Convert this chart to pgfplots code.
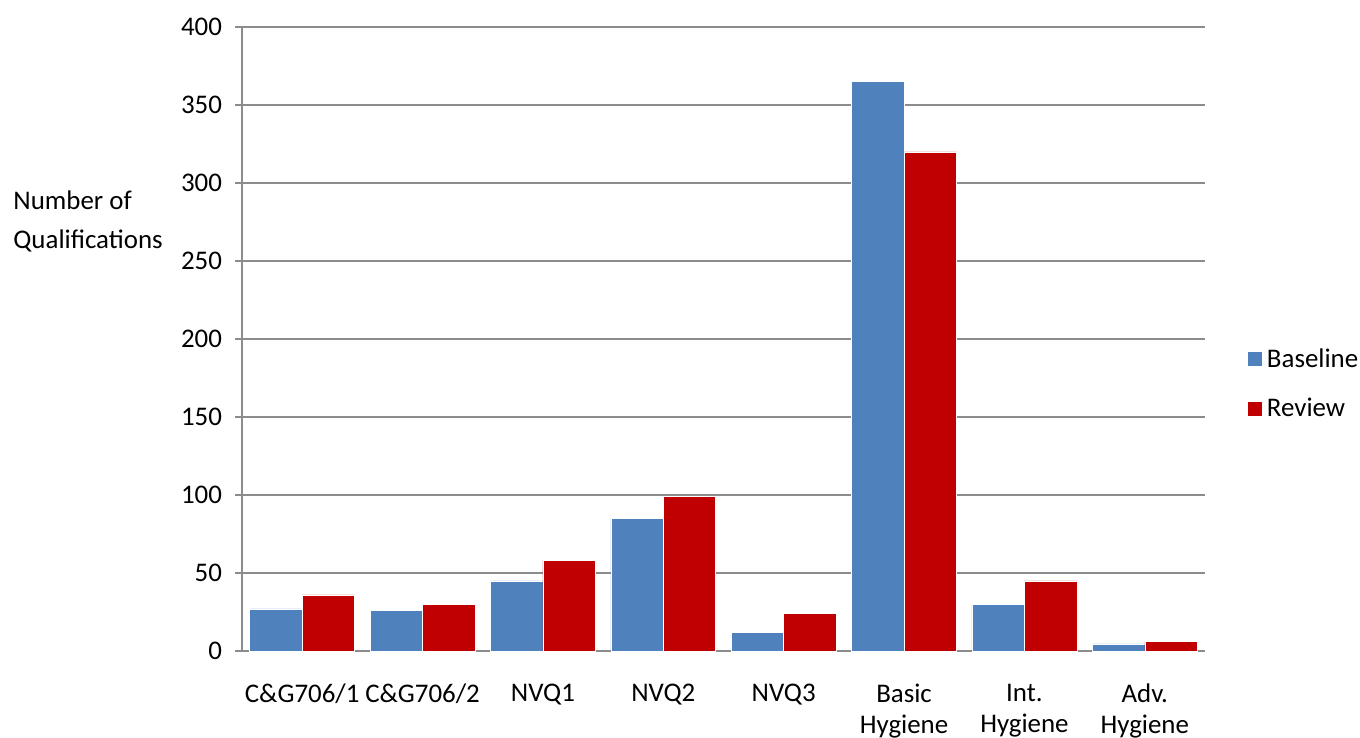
\documentclass[border=0pt]{standalone}
\usepackage{pgfplots}
\pgfplotsset{compat=1.18}
\usepackage{fontspec}
\setmainfont{Carlito}
\definecolor{cblue}{HTML}{4F81BD}
\definecolor{cred}{HTML}{C00000}
\definecolor{cgrid}{HTML}{8C8C8C}
\begin{document}
\begin{tikzpicture}
\begin{axis}[
  scale only axis,
  width=481.5bp, height=312bp,
  xmin=-0.5, xmax=7.5, ymin=0, ymax=400,
  ytick={0,50,...,400},
  xtick={0,...,7},
  xticklabels={C\&G706/1,C\&G706/2,NVQ1,NVQ2,NVQ3,Basic\\Hygiene,Int.\\Hygiene,Adv.\\Hygiene},
  xticklabel style={align=center, font=\fontsize{13.5}{15.5}\selectfont, anchor=north},
  yticklabel style={font=\fontsize{13.5}{15}\selectfont},
  /pgf/number format/assume math mode=true,
  xtick style={draw=none},
  extra x ticks={-0.5,0.5,...,7.5},
  extra x tick labels={},
  extra x tick style={major tick length=7bp, tick align=outside, tick style={draw=cgrid, line width=0.7bp}, grid=none},
  tick align=outside,
  major tick length=3.5bp,
  ytick style={draw=cgrid, line width=0.7bp},
  axis x line*=bottom, axis y line*=left,
  axis line style={draw=cgrid, line width=0.7bp, -},
  ymajorgrids,
  grid style={draw=cgrid, line width=0.7bp},
  xtick pos=bottom, ytick pos=left,
  xticklabel shift=9.5bp,
  yticklabel shift=3bp,
  ybar, bar width=0.436,
  legend style={draw=none, at={(1,0.428)}, anchor=west, xshift=21bp,
    font=\fontsize{13.5}{15}\selectfont, row sep=10bp, fill=none, inner sep=0pt},
  legend cell align=left,
  legend image code/.code={\fill[#1] (0bp,-3.75bp) rectangle (7.5bp,3.75bp);},
  clip=false,
]
\addplot[fill=cblue, draw=white, line width=0.3bp, bar shift=-0.218] coordinates {(0,27) (1,26) (2,45) (3,85) (4,12) (5,365) (6,30) (7,4.5)};
\addlegendentry{Baseline}
\addplot[fill=cred, draw=white, line width=0.3bp, bar shift=0.218] coordinates {(0,36) (1,30) (2,58) (3,99) (4,24) (5,320) (6,45) (7,6)};
\addlegendentry{Review}
\coordinate (bl) at (rel axis cs:0,0);
\coordinate (tr) at (rel axis cs:1,1);
\node[anchor=west, align=left, font=\fontsize{13.5}{19.5}\selectfont, inner sep=0pt] at ([xshift=-114.5bp]rel axis cs:0,0.689) {Number of\\Qualifications};
\end{axis}
\pgfresetboundingbox
\path[use as bounding box] ([xshift=-121bp,yshift=-43.5bp]bl) rectangle ([xshift=77.5bp,yshift=13.5bp]tr);
\end{tikzpicture}
\end{document}
